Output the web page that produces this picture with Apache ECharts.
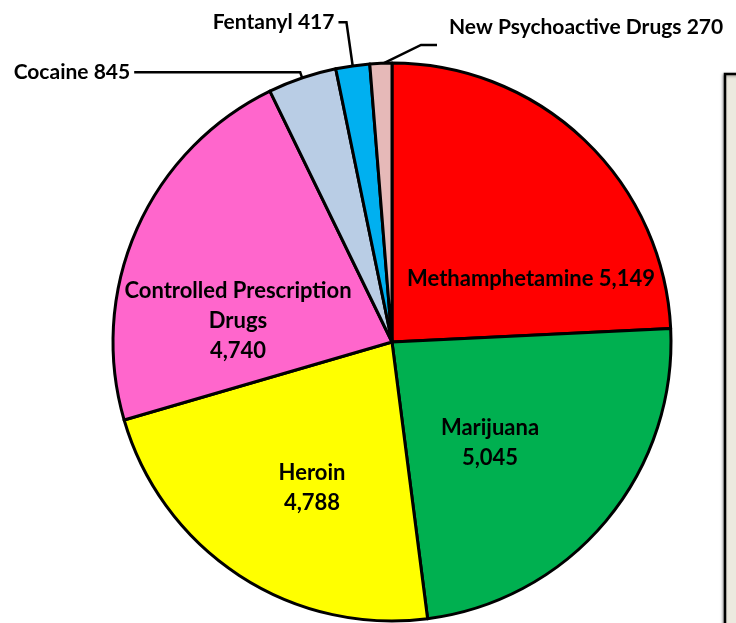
<!DOCTYPE html>
<html>
<head>
<meta charset="utf-8">
<script src="https://cdn.jsdelivr.net/npm/echarts@6/dist/echarts.min.js"></script>
<style>
html,body{margin:0;padding:0;background:#fff;}
#chart{width:736px;height:623px;}
</style>
</head>
<body>
<div id="chart"></div>
<script>
const categories = ['Methamphetamine', 'Marijuana', 'Heroin', 'Controlled Prescription Drugs', 'Cocaine', 'Fentanyl', 'New Psychoactive Drugs'];
const values = [5149, 5045, 4788, 4740, 845, 417, 270];
const labelTexts = ['Methamphetamine 5,149', 'Marijuana\n5,045', 'Heroin\n4,788', 'Controlled Prescription\nDrugs\n4,740', 'Cocaine 845', 'Fentanyl 417', 'New Psychoactive Drugs 270'];
const colors = ['#FF0000', '#00B050', '#FFFF00', '#FF66CC', '#B9CDE5', '#00B0F0', '#E6B9B8'];

// label placement (screen px) for labels inside slices and the right-hand outside label
const labelPlace = {
  0: {x: 531, y: 279, align: 'center'},
  1: {x: 490, y: 443, align: 'center'},
  2: {x: 312, y: 488, align: 'center'},
  3: {x: 238, y: 321, align: 'center'},
  6: {x: 449, y: 27, align: 'left'}
};
const lineLens = {4: [6, 166], 5: [44, 8], 6: [20, 15]};

const chart = echarts.init(document.getElementById('chart'), null, {renderer: 'canvas'});
const font = 'Lato';
const data = categories.map((c, i) => {
  const inside = i < 4;
  return {
    name: c,
    value: values[i],
    itemStyle: {color: colors[i]},
    label: {
      show: true,
      position: inside ? 'inside' : 'outside',
      formatter: labelTexts[i],
      fontFamily: font,
      fontWeight: 'bold',
      fontSize: inside ? 22 : 21,
      lineHeight: inside ? 30 : 24,
      color: '#000',
      align: 'center'
    },
    labelLine: inside ? {show: false} : {
      show: true,
      length: lineLens[i][0],
      length2: lineLens[i][1],
      lineStyle: {color: '#000', width: 2.5}
    }
  };
});

chart.setOption({
  backgroundColor: '#ffffff',
  animation: false,
  graphic: [{
    type: 'rect',
    shape: {x: 725, y: 74, width: 40, height: 600},
    style: {fill: '#ECE9DF', stroke: '#000', lineWidth: 2.5, shadowBlur: 3, shadowColor: 'rgba(0,0,0,0.35)', shadowOffsetX: -1, shadowOffsetY: 1},
    z: 0
  }],
  series: [{
    type: 'pie',
    center: [392, 342],
    radius: [0, 279],
    startAngle: 90,
    clockwise: true,
    avoidLabelOverlap: false,
    minShowLabelAngle: 0,
    data: data,
    itemStyle: {borderColor: '#000', borderWidth: 3},
    label: {distanceToLabelLine: 4},
    labelLayout: function (params) {
      const p = labelPlace[params.dataIndex];
      if (!p) return {};
      const out = {x: p.x, y: p.y, align: p.align, verticalAlign: 'middle'};
      if (params.dataIndex === 6 && params.labelLinePoints) {
        const s = params.labelLinePoints[0];
        const ey = p.y + 18;
        out.labelLinePoints = [[s[0] + 3, s[1]], [p.x - 28, ey], [p.x - 12, ey]];
      }
      return out;
    }
  }]
});
</script>
</body>
</html>
